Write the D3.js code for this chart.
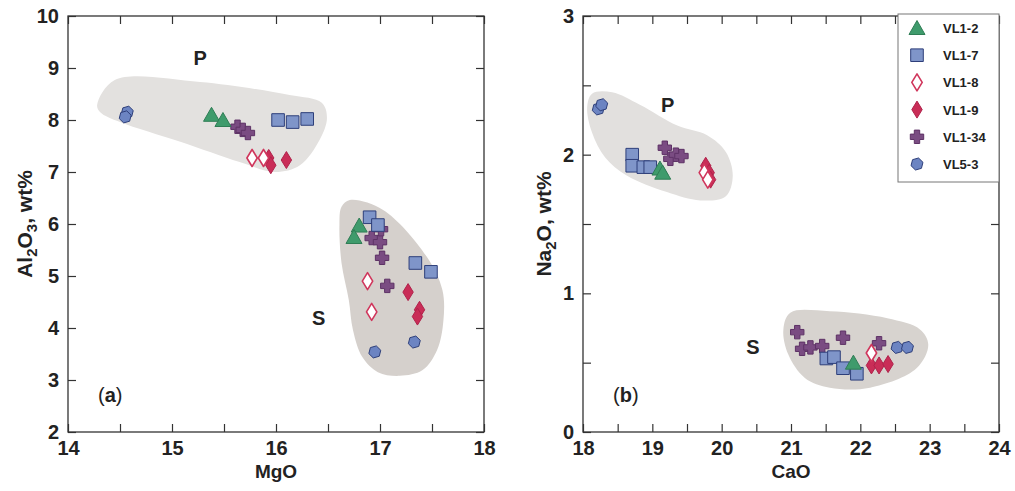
<!DOCTYPE html>
<html>
<head>
<meta charset="utf-8">
<script src="https://cdn.jsdelivr.net/npm/d3@7"></script>
<style>
  body { margin: 0; background: #fff; }
  text { font-family: "Liberation Sans", Arial, Helvetica, sans-serif; fill: #222; }
</style>
</head>
<body>
<svg id="chart" width="1015" height="491"></svg>
<script>
// ---- data ----
const seriesNames = ["VL1-2", "VL1-7", "VL1-8", "VL1-9", "VL1-34", "VL5-3"];

// panel (a): MgO vs Al2O3
const aVL1_2 = [[15.38, 8.10], [15.49, 8.00], [16.80, 5.97], [16.75, 5.75]];
const aVL1_7 = [[16.02, 8.00], [16.16, 7.96], [16.30, 8.02], [16.90, 6.13], [16.98, 5.98], [17.34, 5.25], [17.49, 5.08]];
const aVL1_8 = [[15.77, 7.27], [15.88, 7.27], [16.88, 4.90], [16.92, 4.31]];
const aVL1_9 = [[15.93, 7.27], [15.95, 7.13], [16.10, 7.23], [17.27, 4.69], [17.38, 4.35], [17.36, 4.22]];
const aVL1_34 = [[15.63, 7.87], [15.68, 7.81], [15.73, 7.75], [16.92, 5.73], [17.00, 5.65], [17.01, 5.90], [17.02, 5.35], [17.07, 4.81]];
const aVL5_3 = [[14.57, 8.15], [14.55, 8.06], [16.95, 3.54], [17.33, 3.73]];

// panel (b): CaO vs Na2O
const bVL1_2 = [[19.11, 1.90], [19.15, 1.87], [21.90, 0.50]];
const bVL1_7 = [[18.71, 2.00], [18.71, 1.92], [18.87, 1.91], [18.97, 1.91], [21.51, 0.53], [21.62, 0.54], [21.75, 0.46], [21.95, 0.42]];
const bVL1_8 = [[19.75, 1.87], [19.80, 1.82], [22.16, 0.57]];
const bVL1_9 = [[19.77, 1.92], [19.82, 1.87], [19.84, 1.82], [22.16, 0.48], [22.27, 0.48], [22.40, 0.49]];
const bVL1_34 = [[19.18, 2.05], [19.26, 1.97], [19.34, 2.00], [19.42, 1.99], [21.09, 0.72], [21.16, 0.60], [21.28, 0.61], [21.45, 0.62], [21.75, 0.68], [22.27, 0.64]];
const bVL5_3 = [[18.22, 2.33], [18.27, 2.36], [22.53, 0.61], [22.68, 0.61]];

// field outlines (data coords)
const aFieldP = [[14.28, 8.29], [14.45, 8.77], [15.27, 8.73], [16.13, 8.48], [16.44, 8.33], [16.49, 8.04], [16.42, 7.62], [16.23, 7.13], [15.99, 7.00], [15.65, 7.19], [15.08, 7.58], [14.50, 7.96], [14.31, 8.15]];
const aFieldS = [[16.71, 6.46], [17.03, 6.27], [17.45, 5.37], [17.60, 4.73], [17.61, 4.15], [17.55, 3.58], [17.41, 3.19], [17.19, 3.08], [16.98, 3.15], [16.83, 3.44], [16.74, 3.96], [16.70, 4.54], [16.63, 5.25], [16.61, 5.98], [16.63, 6.33]];
const bFieldP = [[18.13, 2.44], [18.42, 2.45], [18.82, 2.36], [19.36, 2.21], [19.79, 2.14], [20.06, 2.02], [20.16, 1.85], [20.06, 1.70], [19.69, 1.67], [19.21, 1.73], [18.63, 1.85], [18.32, 1.98], [18.13, 2.16], [18.06, 2.34]];
const bFieldS = [[20.99, 0.86], [21.56, 0.87], [22.39, 0.82], [22.86, 0.74], [22.98, 0.63], [22.81, 0.46], [22.14, 0.32], [21.56, 0.32], [21.20, 0.39], [20.96, 0.56], [20.89, 0.74]];

const aXTicks = d3.range(14, 18.01, 0.5);
const aYTicks = d3.range(2, 10.01, 1);
const bXTicks = d3.range(18, 24.01, 0.5);
const bYTicks = d3.range(0, 3.01, 0.5);

// ---- styles ----
const styles = {
  "VL1-2": { shape: "tri", fill: "#3f9b6c", stroke: "#2f7d55" },
  "VL1-7": { shape: "sq", fill: "#7f95c9", stroke: "#2e3f7a" },
  "VL1-8": { shape: "dia", fill: "#ffffff", stroke: "#d0365c" },
  "VL1-9": { shape: "dia", fill: "#c92d57", stroke: "#b0224b" },
  "VL1-34": { shape: "plus", fill: "#7a4c82", stroke: "#5e3266" },
  "VL5-3": { shape: "hex", fill: "#6c84c2", stroke: "#2e3f7a" }
};
const drawOrder = ["VL5-3", "VL1-34", "VL1-9", "VL1-8", "VL1-7", "VL1-2"];

const shapePath = kind => {
  if (kind === "tri") return "M0,-7.5L8,6.5L-8,6.5Z";
  if (kind === "sq") return "M-6.3,-6.3h12.6v12.6h-12.6Z";
  if (kind === "dia") return "M0,-8.5L5.2,0L0,8.5L-5.2,0Z";
  if (kind === "plus") return "M-2.7,-6.7h5.4v4h4v5.4h-4v4h-5.4v-4h-4v-5.4h4Z";
  const pts = d3.range(6).map(i => {
    const a = Math.PI / 6 + i * Math.PI / 3 + 0.25;
    return [6.2 * Math.cos(a), 6.2 * Math.sin(a)];
  });
  return "M" + pts.join("L") + "Z";
};

const svg = d3.select("#chart");
const blob = d3.line().curve(d3.curveCatmullRomClosed.alpha(0.5));

const paintPanel = cfg => {
  const x = d3.scaleLinear().domain(cfg.xDomain).range([cfg.left, cfg.right]);
  const y = d3.scaleLinear().domain(cfg.yDomain).range([cfg.bottom, cfg.top]);
  const g = svg.append("g");

  cfg.fields.forEach(f => {
    g.append("path")
      .attr("d", blob(f.pts.map(p => [x(p[0]), y(p[1])])))
      .attr("fill", f.color);
  });

  const fmt = d => (Number.isInteger(d) ? d : "");
  g.append("g")
    .attr("transform", `translate(0,${cfg.bottom})`)
    .call(d3.axisBottom(x).tickValues(cfg.xTicks).tickFormat(fmt).tickSize(-8).tickSizeOuter(0).tickPadding(9))
    .call(a => a.select(".domain").remove());
  g.append("g")
    .attr("transform", `translate(0,${cfg.top})`)
    .call(d3.axisTop(x).tickValues(cfg.xTicks).tickFormat("").tickSize(-8).tickSizeOuter(0))
    .call(a => a.select(".domain").remove());
  g.append("g")
    .attr("transform", `translate(${cfg.left},0)`)
    .call(d3.axisLeft(y).tickValues(cfg.yTicks).tickFormat(fmt).tickSize(-8).tickSizeOuter(0).tickPadding(9))
    .call(a => a.select(".domain").remove());
  g.append("g")
    .attr("transform", `translate(${cfg.right},0)`)
    .call(d3.axisRight(y).tickValues(cfg.yTicks).tickFormat("").tickSize(-8).tickSizeOuter(0))
    .call(a => a.select(".domain").remove());
  g.selectAll(".tick line").attr("stroke", "#333").attr("stroke-width", 1.2);
  g.selectAll(".tick text")
    .attr("font-size", 20).attr("font-weight", "bold").attr("fill", "#222")
    .attr("font-family", "Liberation Sans, Arial, sans-serif");

  g.append("rect")
    .attr("x", cfg.left).attr("y", cfg.top)
    .attr("width", cfg.right - cfg.left).attr("height", cfg.bottom - cfg.top)
    .attr("fill", "none").attr("stroke", "#333").attr("stroke-width", 1.3);

  drawOrder.forEach(name => {
    const st = styles[name];
    g.selectAll(null)
      .data(cfg.series[name])
      .join("path")
      .attr("transform", d => `translate(${x(d[0])},${y(d[1])})`)
      .attr("d", shapePath(st.shape))
      .attr("fill", st.fill)
      .attr("stroke", st.stroke)
      .attr("stroke-width", name === "VL1-8" ? 1.6 : 1)
      .attr("stroke-linejoin", "round");
  });

  cfg.fieldLabels.forEach(l => {
    g.append("text")
      .attr("x", x(l.at[0])).attr("y", y(l.at[1]))
      .attr("text-anchor", "middle")
      .attr("font-size", 20).attr("font-weight", "bold")
      .text(l.text);
  });

  const tag = g.append("text")
    .attr("x", cfg.left + 30).attr("y", cfg.bottom - 30)
    .attr("font-size", 20);
  tag.append("tspan").text("(");
  tag.append("tspan").attr("font-weight", "bold").text(cfg.tag);
  tag.append("tspan").text(")");

  g.append("text")
    .attr("x", (cfg.left + cfg.right) / 2).attr("y", cfg.bottom + 46)
    .attr("text-anchor", "middle")
    .attr("font-size", 19).attr("font-weight", "bold")
    .text(cfg.xTitle);

  const yt = g.append("text")
    .attr("transform", `translate(${cfg.yTitleX},${(cfg.top + cfg.bottom) / 2}) rotate(-90)`)
    .attr("text-anchor", "middle")
    .attr("font-size", 21).attr("font-weight", "bold");
  cfg.yTitle.forEach(part => {
    const t = yt.append("tspan").text(part.t);
    if (part.sub) t.attr("font-size", 15).attr("dy", 5);
    else if (part.back) t.attr("dy", -5);
  });

  return { x, y, g };
};

paintPanel({
  left: 68, right: 484, top: 16, bottom: 432,
  xDomain: [14, 18], yDomain: [2, 10],
  xTicks: aXTicks, yTicks: aYTicks,
  fields: [{ pts: aFieldP, color: "#e3e1df" }, { pts: aFieldS, color: "#d5d0cc" }],
  series: { "VL1-2": aVL1_2, "VL1-7": aVL1_7, "VL1-8": aVL1_8, "VL1-9": aVL1_9, "VL1-34": aVL1_34, "VL5-3": aVL5_3 },
  fieldLabels: [{ text: "P", at: [15.27, 9.05] }, { text: "S", at: [16.41, 4.06] }],
  tag: "a",
  xTitle: "MgO",
  yTitleX: 32,
  yTitle: [{ t: "Al" }, { t: "2", sub: true }, { t: "O", back: true }, { t: "3", sub: true }, { t: ", wt%", back: true }]
});

const right = paintPanel({
  left: 583, right: 999, top: 16, bottom: 432,
  xDomain: [18, 24], yDomain: [0, 3],
  xTicks: bXTicks, yTicks: bYTicks,
  fields: [{ pts: bFieldP, color: "#e2e0de" }, { pts: bFieldS, color: "#d7d3cf" }],
  series: { "VL1-2": bVL1_2, "VL1-7": bVL1_7, "VL1-8": bVL1_8, "VL1-9": bVL1_9, "VL1-34": bVL1_34, "VL5-3": bVL5_3 },
  fieldLabels: [{ text: "P", at: [19.22, 2.31] }, { text: "S", at: [20.45, 0.56] }],
  tag: "b",
  xTitle: "CaO",
  yTitleX: 551,
  yTitle: [{ t: "Na" }, { t: "2", sub: true }, { t: "O, wt%", back: true }]
});

// legend
const legend = right.g.append("g").attr("transform", "translate(898,14)");
legend.append("rect")
  .attr("width", 101).attr("height", 168)
  .attr("fill", "#fff").attr("stroke", "#777").attr("stroke-width", 1);
seriesNames.forEach((name, i) => {
  const st = styles[name];
  const row = legend.append("g").attr("transform", `translate(19,${14 + i * 27.2})`);
  row.append("path")
    .attr("d", shapePath(st.shape))
    .attr("fill", st.fill).attr("stroke", st.stroke)
    .attr("stroke-width", name === "VL1-8" ? 1.6 : 1)
    .attr("stroke-linejoin", "round");
  row.append("text")
    .attr("x", 26).attr("y", 5)
    .attr("font-size", 13).attr("font-weight", "bold")
    .text(name);
});
</script>
</body>
</html>
